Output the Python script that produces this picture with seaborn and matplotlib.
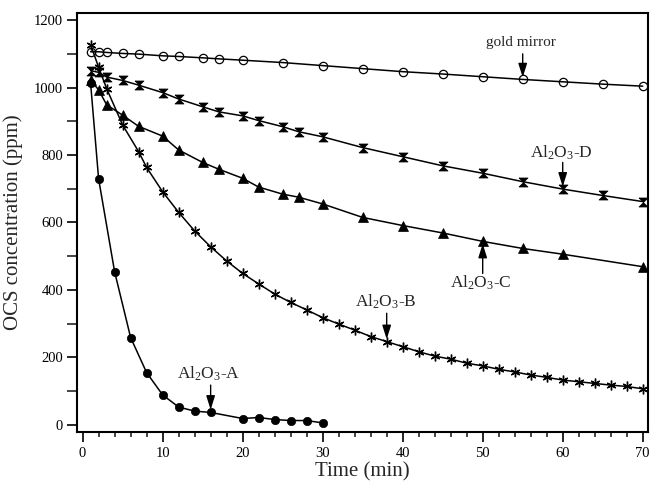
import matplotlib
matplotlib.use("Agg")
import matplotlib.pyplot as plt
from matplotlib.ticker import MultipleLocator
import seaborn as sns
import pandas as pd

# Gold mirror reference (open circles)
gold_t = [1, 2, 3, 5, 7, 10, 12, 15, 17, 20, 25, 30, 35, 40, 45, 50, 55, 60, 65, 70]
gold_c = [1106, 1106, 1104, 1101, 1099, 1094, 1092, 1088, 1085, 1081, 1074,
          1065, 1056, 1047, 1040, 1032, 1024, 1017, 1010, 1004]

# Al2O3-A (filled circles)
a_t = [1, 2, 4, 6, 8, 10, 12, 14, 16, 20, 22, 24, 26, 28, 30]
a_c = [1012, 729, 454, 259, 155, 89, 53, 41, 37, 19, 22, 16, 13, 13, 6]

# Al2O3-B (asterisks)
b_t = [1, 2, 3, 5, 7, 8, 10, 12, 14, 16, 18, 20, 22, 24, 26, 28, 30, 32, 34,
       36, 38, 40, 42, 44, 46, 48, 50, 52, 54, 56, 58, 60, 62, 64, 66, 68, 70]
b_c = [1127, 1060, 997, 889, 810, 763, 691, 630, 575, 528, 486, 449, 418, 388,
       363, 341, 318, 299, 281, 262, 247, 232, 217, 204, 195, 183, 175, 165,
       157, 148, 141, 133, 128, 123, 118, 114, 107]

# Al2O3-C (filled triangles)
c_t = [1, 2, 3, 5, 7, 10, 12, 15, 17, 20, 22, 25, 27, 30, 35, 40, 45, 50, 55, 60, 70]
c_c = [1022, 993, 949, 918, 885, 856, 815, 778, 758, 731, 705, 684, 675,
       655, 615, 591, 569, 544, 523, 506, 469]

# Al2O3-D (filled hourglasses)
d_t = [1, 2, 3, 5, 7, 10, 12, 15, 17, 20, 22, 25, 27, 30, 35, 40, 45, 50, 55, 60, 65, 70]
d_c = [1050, 1045, 1031, 1021, 1007, 985, 966, 943, 928, 916, 902, 884, 869,
       854, 822, 795, 768, 746, 721, 699, 680, 662]

sns.set_theme(style="ticks")
plt.rcParams["font.family"] = ["Liberation Serif", "DejaVu Serif"]
plt.rcParams["mathtext.fontset"] = "custom"
plt.rcParams["mathtext.rm"] = "Liberation Serif"
plt.rcParams["mathtext.it"] = "Liberation Serif:italic"
plt.rcParams["mathtext.default"] = "regular"

fig = plt.figure(figsize=(6.51, 4.87), dpi=100)
ax = fig.add_axes([0.1183, 0.1136, 0.8776, 0.8591])

hourglass = [(-1, 1), (1, 1), (-1, -1), (1, -1), (-1, 1)]
line_kw = dict(color="black", linewidth=1.1, markeredgecolor="black")

series = [
    (gold_t, gold_c, dict(marker="o", markersize=6, markerfacecolor="none",
                          markeredgewidth=0.9)),
    (a_t, a_c, dict(marker="o", markersize=6, markerfacecolor="black",
                    markeredgewidth=0.5)),
    (b_t, b_c, dict(marker=(6, 2, 0), markersize=7, markeredgewidth=1.0)),
    (c_t, c_c, dict(marker="^", markersize=6.5, markerfacecolor="black",
                    markeredgewidth=0.5)),
    (d_t, d_c, dict(marker=hourglass, markersize=6.5, markerfacecolor="black",
                    markeredgewidth=0.5)),
]
for t, c, mk in series:
    df = pd.DataFrame({"t": t, "c": c})
    sns.lineplot(data=df, x="t", y="c", ax=ax, **line_kw, **mk)

ax.set_xlim(-0.7, 70.7)
ax.set_ylim(-20, 1220)
ax.xaxis.set_major_locator(MultipleLocator(10))
ax.xaxis.set_minor_locator(MultipleLocator(2))
ax.yaxis.set_major_locator(MultipleLocator(200))
ax.yaxis.set_minor_locator(MultipleLocator(100))

for side in ax.spines.values():
    side.set_linewidth(1.5)
    side.set_color("black")
ax.tick_params(axis="x", which="major", direction="out", length=7, width=1.2,
               labelsize=10.5, pad=4, colors="black")
ax.tick_params(axis="x", which="minor", direction="out", length=3.6, width=1.2)
ax.tick_params(axis="y", which="major", direction="out", length=7, width=1.2,
               labelsize=10.5, pad=3, colors="black")
ax.tick_params(axis="y", which="minor", direction="out", length=7, width=1.2)

ax.set_xlabel("Time (min)", fontsize=15, labelpad=2)
ax.set_ylabel("OCS concentration (ppm)", fontsize=15)
ax.yaxis.set_label_coords(-0.094, 0.5)

arrow = dict(arrowstyle="-|>,head_length=0.7,head_width=0.22", color="black",
             lw=1.0, shrinkA=0, shrinkB=0)

ax.annotate("", xy=(55, 1030), xytext=(55, 1100), arrowprops=arrow)
ax.text(54.8, 1133, "gold mirror", fontsize=11, ha="center", va="center")

ax.annotate("", xy=(60, 706), xytext=(60, 778), arrowprops=arrow)
ax.text(59.8, 806, "Al$_2$O$_3$-D", fontsize=12.5, ha="center", va="center")

ax.annotate("", xy=(50, 537), xytext=(50, 449), arrowprops=arrow)
ax.text(49.8, 420, "Al$_2$O$_3$-C", fontsize=12.5, ha="center", va="center")

ax.annotate("", xy=(38, 254), xytext=(38, 331), arrowprops=arrow)
ax.text(37.9, 366, "Al$_2$O$_3$-B", fontsize=12.5, ha="center", va="center")

ax.annotate("", xy=(16, 45), xytext=(16, 118), arrowprops=arrow)
ax.text(15.8, 152, "Al$_2$O$_3$-A", fontsize=12.5, ha="center", va="center")

fig.savefig("out.png", dpi=100)
